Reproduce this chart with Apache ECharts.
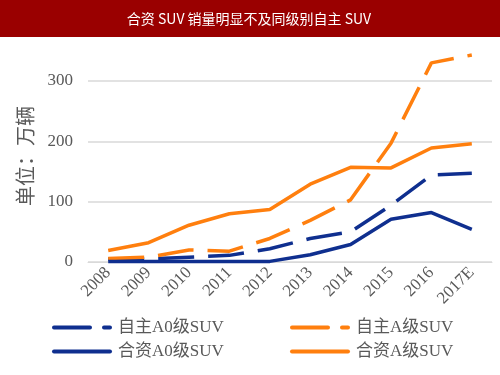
<!DOCTYPE html>
<html>
<head>
<meta charset="utf-8">
<script src="https://cdn.jsdelivr.net/npm/echarts@6/dist/echarts.min.js"></script>
<style>
  html, body { margin: 0; padding: 0; background: #fff; }
  #main { width: 500px; height: 375px; }
</style>
</head>
<body>
<div id="main"></div>
<script>
// 年份
var years = ['2008', '2009', '2010', '2011', '2012', '2013', '2014', '2015', '2016', '2017E'];
// 销量（万辆）
var zizhuA0 = [5, 5, 8, 11, 22, 39, 50, 94, 144, 147];
var zizhuA = [6, 8, 20, 18, 39, 69, 103, 197, 330, 343];
var hezhiA0 = [1, 1, 1, 1, 1, 12, 29, 71, 82, 54];
var hezhiA = [19, 32, 61, 80, 87, 129, 157, 156, 189, 196];

var blue = '#0f2f8f';
var orange = '#ff7f0e';
var serif = '"Liberation Serif", "Noto Sans CJK SC", serif';

var chart = echarts.init(document.getElementById('main'));

function line(name, data, color, dashed) {
  return {
    name: name,
    type: 'line',
    data: data,
    symbol: 'none',
    clip: false,
    lineStyle: {
      color: color,
      width: 3.5,
      type: dashed ? [36, 14] : 'solid'
    },
    itemStyle: { color: color }
  };
}

var legendBase = {
  orient: 'vertical',
  top: 314,
  itemWidth: 56,
  itemHeight: 12,
  itemGap: 7,
  itemStyle: { opacity: 0 },
  lineStyle: { width: 4, cap: 'round' },
  textStyle: { fontFamily: serif, fontSize: 17, color: '#595959', padding: [0, 0, 0, 3] }
};

var option = {
  animation: false,
  grid: {
    left: 88,
    right: 8,
    top: 81,
    bottom: 113
  },
  graphic: [
    {
      type: 'rect',
      shape: { x: 0, y: 0, width: 500, height: 37 },
      style: { fill: '#9a0000' }
    },
    {
      type: 'text',
      x: 249,
      y: 19,
      style: {
        text: '合资 SUV 销量明显不及同级别自主 SUV',
        fill: '#fff',
        font: '14px "Noto Sans CJK SC", sans-serif',
        align: 'center',
        verticalAlign: 'middle'
      }
    },
    {
      type: 'text',
      x: 28,
      y: 156,
      rotation: Math.PI / 2,
      style: {
        text: '单位：万辆',
        fill: '#595959',
        font: '20px ' + serif,
        align: 'center',
        verticalAlign: 'middle'
      }
    }
  ],
  legend: [
    Object.assign({}, legendBase, {
      left: 47,
      data: ['自主A0级SUV', '合资A0级SUV']
    }),
    Object.assign({}, legendBase, {
      left: 285,
      data: ['自主A级SUV', '合资A级SUV']
    })
  ],
  xAxis: {
    type: 'category',
    data: years,
    boundaryGap: true,
    axisLine: { lineStyle: { color: '#d9d9d9', width: 1 } },
    axisTick: { show: false },
    axisLabel: {
      rotate: 45,
      margin: 8,
      color: '#595959',
      fontFamily: serif,
      fontSize: 17
    }
  },
  yAxis: {
    type: 'value',
    min: 0,
    max: 300,
    interval: 100,
    axisLine: { show: false },
    axisTick: { show: false },
    axisLabel: {
      margin: 15,
      color: '#595959',
      fontFamily: serif,
      fontSize: 17
    },
    splitLine: { lineStyle: { color: '#d9d9d9', width: 1.5 } }
  },
  series: [
    line('自主A0级SUV', zizhuA0, blue, true),
    line('自主A级SUV', zizhuA, orange, true),
    line('合资A0级SUV', hezhiA0, blue, false),
    line('合资A级SUV', hezhiA, orange, false)
  ]
};

chart.setOption(option);
</script>
</body>
</html>
